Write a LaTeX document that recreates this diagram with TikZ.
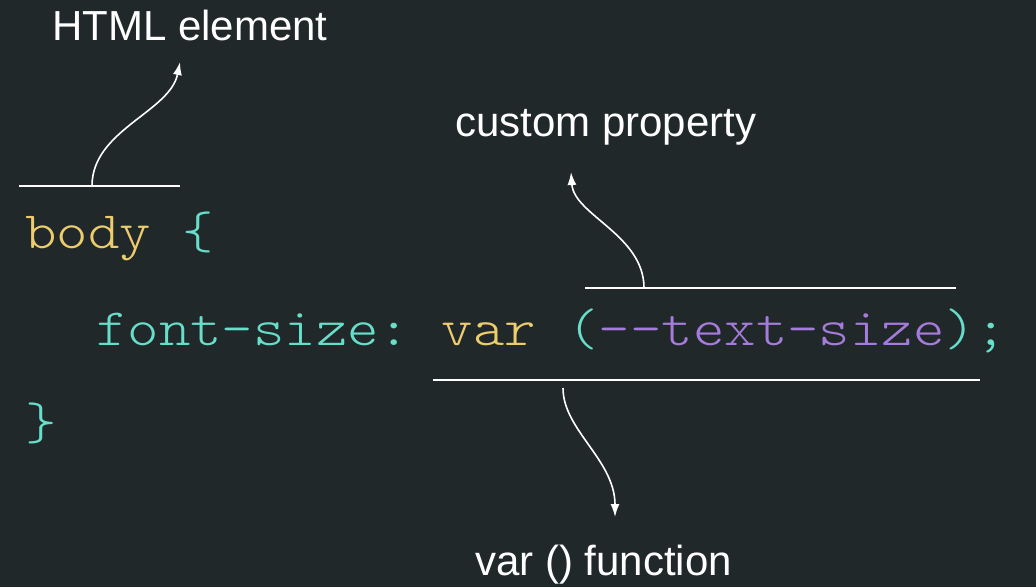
\documentclass[tikz,border=0pt]{standalone}
\usepackage{fontspec}
\setmainfont{Liberation Sans}
\setmonofont{lmmonolt10-regular.otf}[FakeStretch=1.14]
\usetikzlibrary{arrows.meta}
\definecolor{bgdark}{HTML}{21282A}
\definecolor{codeyellow}{HTML}{EDCC6E}
\definecolor{codeteal}{HTML}{66DEC9}
\definecolor{codepurple}{HTML}{A57BDB}
\newcommand{\labelsize}{\fontsize{42}{50}\selectfont}
\newcommand{\codesize}{\ttfamily\fontsize{52.5}{60}\selectfont}
\tikzset{
  labeltext/.style={font=\labelsize,text=white,anchor=base west,inner sep=0},
  codetext/.style={font=\codesize,anchor=base west,inner sep=0},
  markline/.style={draw=white,line width=1.8pt},
  pointarrow/.style={draw=white,line width=1.6pt,-{Latex[length=13pt,width=9pt]}}
}

\begin{document}
\begin{tikzpicture}[x=1pt,y=-1pt]
\path[use as bounding box,fill=bgdark] (0,0) rectangle (1036,587);

\node[labeltext] (html) at (52,40) {HTML element};
\node[labeltext] (custom) at (455,136) {custom property};
\node[labeltext] (varfn) at (475,575) {var () function};

\node[codetext] (body) at (25,248) {\textcolor{codeyellow}{body} \textcolor{codeteal}{\{}};
\node[codetext] (decl) at (96,345) {\textcolor{codeteal}{font-size:} \textcolor{codeyellow}{var} \textcolor{codeteal}{(}\textcolor{codepurple}{--text-size}\textcolor{codeteal}{);}};
\node[codetext,text=codeteal] (close) at (25,439) {\}};

\draw[markline] (19,186) -- (180,186);
\draw[markline] (585,288) -- (956,288);
\draw[markline] (433,380) -- (980,380);

\coordinate (htmlfoot) at (92,186);
\coordinate (htmltip) at (180,62);
\coordinate (customfoot) at (644,288);
\coordinate (customtip) at (571,172);
\coordinate (varfoot) at (563,388);
\coordinate (vartip) at (615,517);

\draw[pointarrow] (htmlfoot) .. controls (92,130) and (170,112) .. (htmltip);
\draw[pointarrow] (customfoot) .. controls (644,235) and (574,215) .. (customtip);
\draw[pointarrow] (varfoot) .. controls (563,430) and (615,460) .. (vartip);
\end{tikzpicture}
\end{document}
